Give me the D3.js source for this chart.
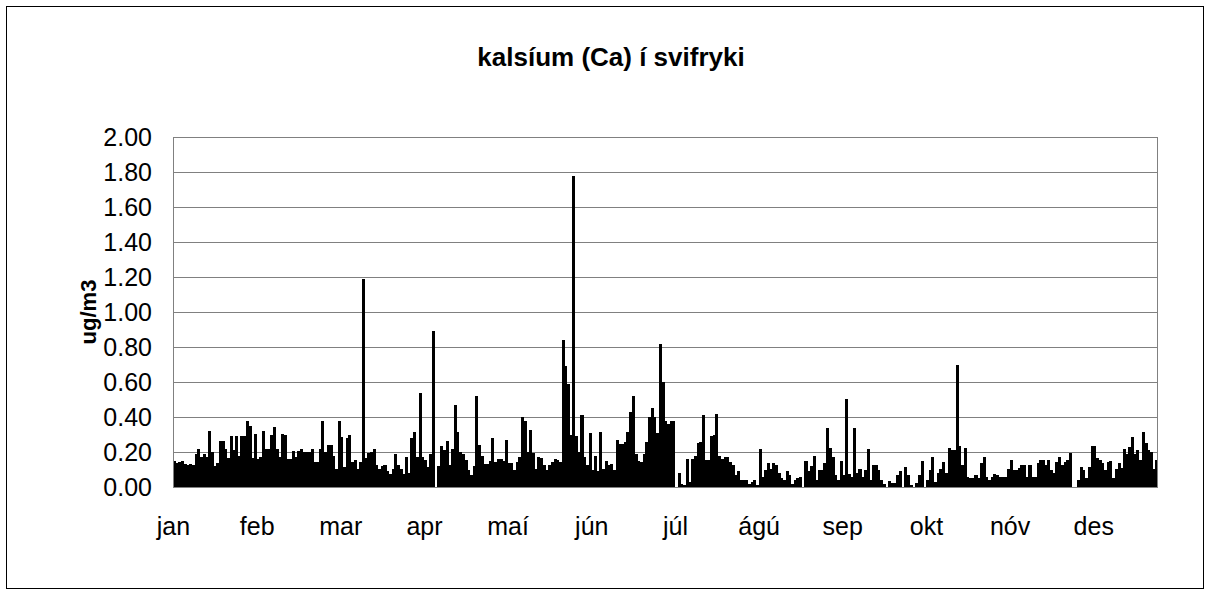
<!DOCTYPE html>
<html>
<head>
<meta charset="utf-8">
<script src="https://cdn.jsdelivr.net/npm/d3@7/dist/d3.min.js"></script>
<style>
  html, body { margin: 0; padding: 0; background: #fff; }
  svg { display: block; font-family: "Liberation Sans", Arial, sans-serif; }
</style>
</head>
<body>
<svg id="chart" width="1211" height="596"></svg>
<script>
// ---- data ----
const title = "kalsíum (Ca) í svifryki";
const yLabel = "ug/m3";
const monthLabels = ["jan","feb","mar","apr","maí","jún","júl","ágú","sep","okt","nóv","des"];
const monthStartIndex = [0,31,62,93,124,155,186,217,248,279,310,341];
const yTicks = [0,0.2,0.4,0.6,0.8,1.0,1.2,1.4,1.6,1.8,2.0];

const janFeb = [0.15,0.135,0.145,0.15,0.13,0.125,0.13,0.125,0.19,0.22,0.17,0.19,0.17,0.32,0.2,0.12,0.135,0.265,0.265,0.22,0.165,0.29,0.21,0.29,0.18,0.29,0.29,0.375,0.35,0.165,0.305,0.16,0.17,0.32,0.22];
const febMar = [0.22,0.30,0.345,0.22,0.17,0.305,0.30,0.16,0.16,0.205,0.17,0.205,0.215,0.2,0.2,0.2,0.215,0.145,0.145,0.215,0.375,0.2,0.24,0.24,0.175,0.105,0.375,0.285,0.115,0.28,0.3,0.145,0.155,0.105,0.145,1.19];
const marApr = [0.165,0.195,0.2,0.215,0.125,0.105,0.12,0.125,0.09,0.075,0.105,0.19,0.125,0.105,0.075,0.17,0.08,0.28,0.315,0.17,0.54,0.17,0.155,0.115,0.19,0.89,0.0,0.12,0.235,0.21,0.265,0.125,0.215,0.47,0.315,0.2,0.19,0.155];
const aprMay = [0.1,0.07,0.12,0.52,0.24,0.175,0.13,0.13,0.15,0.28,0.145,0.16,0.16,0.15,0.27,0.14,0.14,0.1,0.145,0.17,0.4,0.38,0.2,0.325,0.195,0.105,0.17,0.165,0.125,0.1,0.125,0.145,0.16,0.155,0.145];
const mayJun = [0.84,0.69,0.59,0.30,1.78,0.29,0.2,0.41,0.17,0.125,0.31,0.1,0.18,0.09,0.315,0.105,0.15,0.125,0.13,0.1,0.27,0.245,0.245,0.26,0.315,0.43,0.52,0.19,0.15,0.145,0.19,0.26,0.4,0.45,0.4,0.31];
const julAug = [0.82,0.6,0.38,0.36,0.38,0.38,0.0,0.08,0.02,0.01,0.16,0.03,0.16,0.18,0.25,0.255,0.41,0.155,0.155,0.29,0.30,0.42,0.175,0.16,0.17,0.17,0.145,0.125,0.07,0.09,0.04,0.04,0.04,0.02,0.03,0.04,0.01,0.215];
const augSep = [0.06,0.1,0.135,0.105,0.135,0.125,0.08,0.05,0.04,0.09,0.07,0.02,0.04,0.05,0.055,0.0,0.15,0.09,0.12,0.175,0.04,0.095,0.1,0.135,0.335,0.225,0.17,0.07,0.04,0.15,0.07,0.505,0.075,0.06,0.335,0.08,0.105];
const sepOct = [0.06,0.1,0.215,0.04,0.125,0.125,0.1,0.04,0.02,0.0,0.035,0.025,0.025,0.07,0.09,0.0,0.115,0.07,0.01,0.0,0.025,0.07,0.15,0.0,0.04,0.1,0.17,0.03,0.08,0.105,0.145,0.08,0.225,0.21,0.21];
const octNov = [0.70,0.235,0.125,0.225,0.055,0.05,0.05,0.07,0.05,0.135,0.17,0.06,0.04,0.06,0.075,0.07,0.06,0.055,0.06,0.105,0.155,0.1,0.1,0.11,0.125,0.125,0.055,0.125,0.06,0.06,0.135,0.155,0.155,0.125,0.155,0.1,0.08];
const novDec = [0.145,0.17,0.125,0.145,0.155,0.195,0.0,0.0,0.04,0.115,0.1,0.05,0.115,0.235,0.235,0.165,0.155,0.135,0.1,0.145,0.15,0.05,0.105,0.135,0.11,0.215,0.19,0.23,0.285,0.19,0.21,0.155,0.315,0.25,0.21,0.2,0.105,0.155];

const values = [].concat(janFeb, febMar, marApr, aprMay, mayJun, julAug, augSep, sepOct, octNov, novDec);

// ---- layout ----
const plot = { left: 173, top: 137, right: 1158, bottom: 487 };
const svg = d3.select("#chart");

// outer frame
svg.append("rect")
  .attr("x", 6.5).attr("y", 6.5)
  .attr("width", 1197).attr("height", 582)
  .attr("fill", "#fff").attr("stroke", "#000").attr("stroke-width", 1);

const x = d3.scaleBand()
  .domain(d3.range(values.length))
  .range([plot.left, plot.right])
  .padding(0);

const y = d3.scaleLinear()
  .domain([0, 2])
  .range([plot.bottom, plot.top]);

// gridlines
svg.append("g")
  .selectAll("line")
  .data(yTicks.filter(d => d > 0))
  .join("line")
  .attr("x1", plot.left).attr("x2", plot.right)
  .attr("y1", d => Math.round(y(d)) + 0.5)
  .attr("y2", d => Math.round(y(d)) + 0.5)
  .attr("stroke", "#808080").attr("stroke-width", 1);

// bars
svg.append("g")
  .selectAll("rect")
  .data(values)
  .join("rect")
  .attr("x", (d, i) => x(i))
  .attr("width", x.bandwidth() + 0.35)
  .attr("y", d => y(d))
  .attr("height", d => y(0) - y(d))
  .attr("fill", "#000")
  .attr("shape-rendering", "crispEdges");

// plot border
svg.append("rect")
  .attr("x", plot.left + 0.5).attr("y", plot.top + 0.5)
  .attr("width", plot.right - plot.left - 1).attr("height", plot.bottom - plot.top)
  .attr("fill", "none").attr("stroke", "#808080").attr("stroke-width", 1);

// y axis labels
const yAxis = d3.axisLeft(y).tickValues(yTicks).tickFormat(d3.format(".2f")).tickSize(0).tickPadding(21);
const gy = svg.append("g").attr("transform", `translate(${plot.left},0)`).call(yAxis);
gy.select(".domain").remove();
gy.selectAll("text").attr("font-size", 25).attr("fill", "#000")
  .attr("font-family", "'Liberation Sans', Arial, sans-serif");

// x axis month labels
const xAxis = d3.axisBottom(d3.scaleLinear().domain([0, values.length]).range([plot.left, plot.right]))
  .tickValues(monthStartIndex)
  .tickFormat((d, i) => monthLabels[i])
  .tickSize(0).tickPadding(30);
const gx = svg.append("g").attr("transform", `translate(0,${plot.bottom})`).call(xAxis);
gx.select(".domain").remove();
gx.selectAll("text").attr("font-size", 25).attr("fill", "#000")
  .attr("font-family", "'Liberation Sans', Arial, sans-serif");

// title
svg.append("text")
  .attr("x", 611).attr("y", 66)
  .attr("text-anchor", "middle")
  .attr("font-size", 26).attr("font-weight", "bold")
  .text(title);

// y label
svg.append("text")
  .attr("transform", `translate(96,312) rotate(-90)`)
  .attr("text-anchor", "middle")
  .attr("font-size", 22).attr("font-weight", "bold")
  .text(yLabel);
</script>
</body>
</html>
